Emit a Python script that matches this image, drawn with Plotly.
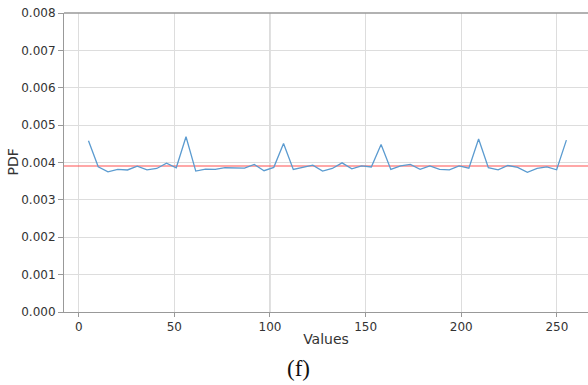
import plotly.graph_objects as go

# Histogram bin right edges (50 bins over 0..255)
bin_edges = [5.1, 10.2, 15.3, 20.4, 25.5, 30.6, 35.7, 40.8, 45.9, 51.0,
             56.1, 61.2, 66.3, 71.4, 76.5, 81.6, 86.7, 91.8, 96.9, 102.0,
             107.1, 112.2, 117.3, 122.4, 127.5, 132.6, 137.7, 142.8, 147.9, 153.0,
             158.1, 163.2, 168.3, 173.4, 178.5, 183.6, 188.7, 193.8, 198.9, 204.0,
             209.1, 214.2, 219.3, 224.4, 229.5, 234.6, 239.7, 244.8, 249.9, 255.0]

# Estimated probability density per bin
pdf_values = [0.00458, 0.003885, 0.00375, 0.003815, 0.00380, 0.00390, 0.003805, 0.00384, 0.00398, 0.00386,
              0.00469, 0.00377, 0.00382, 0.003815, 0.00386, 0.00386, 0.00385, 0.00395, 0.00378, 0.00387,
              0.00451, 0.003815, 0.00387, 0.00393, 0.00377, 0.00384, 0.00399, 0.00383, 0.00391, 0.00388,
              0.00448, 0.003815, 0.00391, 0.00395, 0.003815, 0.00391, 0.003815, 0.003805, 0.00391, 0.00385,
              0.00463, 0.00386, 0.003805, 0.00392, 0.00387, 0.003735, 0.00384, 0.00388, 0.003805, 0.00460]

# Uniform reference density for 256 levels
uniform_pdf = 1 / 256

x_ticks = [0, 50, 100, 150, 200, 250]
y_ticks = [0.000, 0.001, 0.002, 0.003, 0.004, 0.005, 0.006, 0.007, 0.008]

x_range = [-7.7, 266.3]

fig = go.Figure()

fig.add_trace(go.Scatter(
    x=[x_range[0], x_range[1]], y=[uniform_pdf, uniform_pdf],
    mode="lines", line=dict(color="#ff5050", width=1.1),
    showlegend=False, hoverinfo="skip",
))

fig.add_trace(go.Scatter(
    x=bin_edges, y=pdf_values,
    mode="lines", line=dict(color="#5b9bd0", width=1.3),
    showlegend=False,
))

tick_font = dict(family="DejaVu Sans", size=12, color="#333333")
label_font = dict(family="DejaVu Sans", size=14, color="#333333")

fig.update_layout(
    width=588, height=385,
    margin=dict(l=64, r=0, t=13, b=73),
    paper_bgcolor="white", plot_bgcolor="white",
    xaxis=dict(
        range=x_range, tickvals=x_ticks, ticks="outside", ticklen=4,
        tickcolor="#999999", showgrid=True, gridcolor="#dddddd", gridwidth=1,
        showline=True, linecolor="#999999", linewidth=1, mirror=False,
        zeroline=False, tickfont=tick_font,
        title=dict(text="Values", font=label_font, standoff=0),
    ),
    yaxis=dict(
        range=[0, 0.008], tickvals=y_ticks, tickformat=".3f", ticks="outside", ticklen=5,
        tickcolor="#999999", showgrid=True, gridcolor="#dddddd", gridwidth=1,
        showline=True, linecolor="#999999", linewidth=1,
        zeroline=False, tickfont=tick_font,
    ),
    shapes=[
        dict(type="line", xref="paper", yref="paper", x0=0, x1=1, y0=1, y1=1,
             line=dict(color="#999999", width=1.5)),
        dict(type="line", xref="x", yref="paper", x0=100, x1=100, y0=0, y1=1,
             line=dict(color="#c0c0c0", width=1), layer="below"),
    ],
    annotations=[
        dict(text="PDF", xref="paper", yref="paper", x=-0.0992, y=0.5,
             xanchor="center", yanchor="middle", textangle=-90, showarrow=False,
             font=label_font),
        dict(text="(f)", xref="paper", yref="paper", x=0.448, y=-0.142,
             xanchor="center", yanchor="top", showarrow=False,
             font=dict(family="Liberation Serif", size=23, color="#111111")),
    ],
)

fig.write_html("out.html")
